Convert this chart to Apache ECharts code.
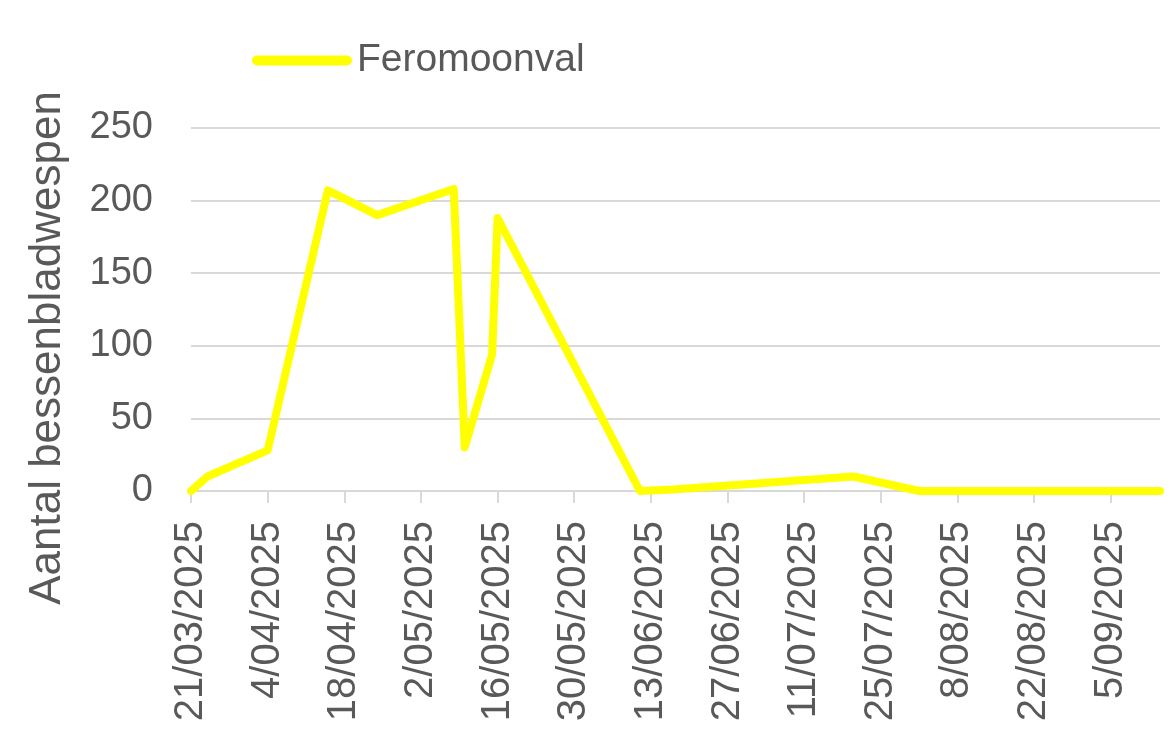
<!DOCTYPE html>
<html>
<head>
<meta charset="utf-8">
<script src="https://cdn.jsdelivr.net/npm/echarts@6/dist/echarts.min.js"></script>
<style>
  html, body { margin: 0; padding: 0; background: #fff; }
  #chart { width: 1170px; height: 735px; }
</style>
</head>
<body>
<div id="chart"></div>
<script>
// data
var seriesName = "Feromoonval";
var yTitle = "Aantal bessenbladwespen";
var dates = [
  "2025-03-21", "2025-03-24", "2025-04-04", "2025-04-15", "2025-04-24",
  "2025-05-08", "2025-05-10", "2025-05-15", "2025-05-16", "2025-06-11",
  "2025-06-17", "2025-07-20", "2025-08-01", "2025-09-14"
];
var values = [0, 10, 28, 207, 190, 208, 30, 94, 188, 0, 1, 10, 0, 0];
var startDate = "2025-03-21";
var endDate = "2025-09-14";
var tickStepDays = 14;
var yTicks = [0, 50, 100, 150, 200, 250];

var DAY = 86400000;
function toDay(s) {
  var p = s.split("-");
  var q = startDate.split("-");
  return Math.round((Date.UTC(+p[0], p[1] - 1, +p[2]) - Date.UTC(+q[0], q[1] - 1, +q[2])) / DAY);
}
function dayLabel(d) {
  var q = startDate.split("-");
  var t = new Date(Date.UTC(+q[0], q[1] - 1, +q[2]) + d * DAY);
  var mm = t.getUTCMonth() + 1;
  return t.getUTCDate() + "/" + (mm < 10 ? "0" + mm : mm) + "/" + t.getUTCFullYear();
}

var maxDay = toDay(endDate);
var xTicks = [];
for (var d = 0; d < maxDay; d += tickStepDays) xTicks.push(d);

var points = dates.map(function (s, i) { return [toDay(s), values[i]]; });

var textColor = "#595959";
var gridColor = "#d9d9d9";
var font = "Liberation Sans, Arial, sans-serif";

var myChart = echarts.init(document.getElementById("chart"));
myChart.setOption({
  animation: false,
  grid: { left: 191, right: 10, top: 128, bottom: 244 },
  legend: {
    data: [seriesName],
    left: 247,
    top: 36,
    itemWidth: 100,
    itemHeight: 10,
    itemGap: 10,
    icon: "path://M5,0 H95 A5,5 0 0 1 95,10 H5 A5,5 0 0 1 5,0 Z",
    textStyle: { color: textColor, fontSize: 39, fontFamily: font, padding: [0, 0, 0, 0] }
  },
  graphic: [{
    type: "text",
    x: 48,
    y: 348,
    rotation: Math.PI / 2,
    style: {
      text: yTitle,
      fill: textColor,
      font: "44px " + font,
      textAlign: "center",
      textVerticalAlign: "middle"
    }
  }],
  xAxis: {
    type: "value",
    min: 0,
    max: maxDay,
    interval: tickStepDays,
    axisLine: { show: true, lineStyle: { color: gridColor, width: 2 } },
    axisTick: { show: true, length: 12, customValues: xTicks, lineStyle: { color: gridColor, width: 2 } },
    axisLabel: {
      customValues: xTicks,
      rotate: 90,
      margin: 30,
      color: textColor,
      fontSize: 40,
      fontFamily: font,
      formatter: function (v) { return dayLabel(v); }
    },
    splitLine: { show: false }
  },
  yAxis: {
    type: "value",
    min: yTicks[0],
    max: yTicks[yTicks.length - 1],
    interval: 50,
    axisLine: { show: false },
    axisTick: { show: false },
    axisLabel: { color: textColor, fontSize: 38, fontFamily: font, margin: 38 },
    splitLine: { lineStyle: { color: gridColor, width: 2 } }
  },
  series: [{
    name: seriesName,
    type: "line",
    data: points,
    symbol: "none",
    itemStyle: { color: "#ffff00" },
    lineStyle: { color: "#ffff00", width: 8, cap: "round", join: "round" }
  }]
});
</script>
</body>
</html>
